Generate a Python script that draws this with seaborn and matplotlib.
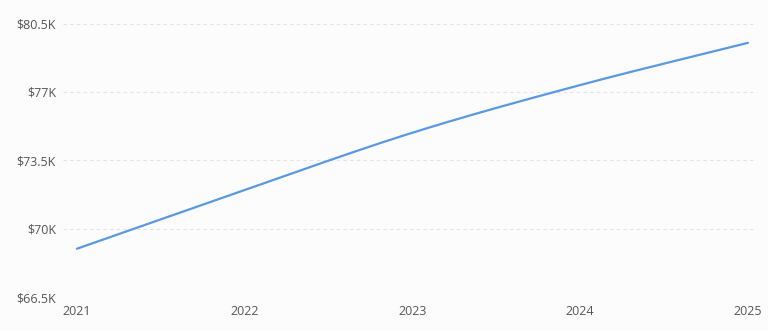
import numpy as np
import pandas as pd
import matplotlib
matplotlib.use('Agg')
import matplotlib.pyplot as plt
import seaborn as sns
from matplotlib.ticker import FuncFormatter

years = [2021, 2022, 2023, 2024, 2025]
values = [68970, 71980, 74910, 77350, 79510]
yticks = [66500, 70000, 73500, 77000, 80500]

sns.set_style('white')
plt.rcParams['font.family'] = ['Open Sans', 'DejaVu Sans']

bg = '#fcfcfc'
fig = plt.figure(figsize=(7.68, 3.31), dpi=100, facecolor=bg)
ax = fig.add_axes([0.082, 0.1027, 0.9037, 0.8263], facecolor=bg)

# smooth drawing path through the data points (monotone cubic hermite)
x = np.array(years, dtype=float)
y = np.array(values, dtype=float)
d = np.diff(y) / np.diff(x)
m = np.empty_like(y)
m[0], m[-1] = d[0], d[-1]
m[1:-1] = (d[:-1] + d[1:]) / 2
xs, ys = [], []
for i in range(len(x) - 1):
    h = x[i + 1] - x[i]
    t = np.linspace(0, 1, 40)
    h00 = 2*t**3 - 3*t**2 + 1
    h10 = t**3 - 2*t**2 + t
    h01 = -2*t**3 + 3*t**2
    h11 = t**3 - t**2
    xs.extend(x[i] + t*h)
    ys.extend(h00*y[i] + h10*h*m[i] + h01*y[i+1] + h11*h*m[i+1])
smooth = pd.DataFrame({'year': xs, 'value': ys})

sns.lineplot(data=smooth, x='year', y='value', ax=ax, color='#5899e2',
             linewidth=1.6, sort=False)

ax.set_xlim(2020.917, 2025.054)
ax.set_ylim(66500, 80500)
ax.set_xticks(years)
ax.set_xticklabels([str(v) for v in years])
ax.set_yticks(yticks)
ax.yaxis.set_major_formatter(FuncFormatter(lambda v, p: f'${v/1000:g}K'))
ax.set_xlabel('')
ax.set_ylabel('')
ax.grid(axis='y', color='#e3e3e3', linestyle=(0, (3, 3)), linewidth=0.8)
ax.grid(axis='x', visible=False)
for s in ax.spines.values():
    s.set_visible(False)
ax.tick_params(axis='both', length=0, labelsize=9, labelcolor='#555555')
ax.tick_params(axis='y', pad=5)
ax.tick_params(axis='x', pad=6)

plt.savefig('out.png', dpi=100, facecolor=bg)
